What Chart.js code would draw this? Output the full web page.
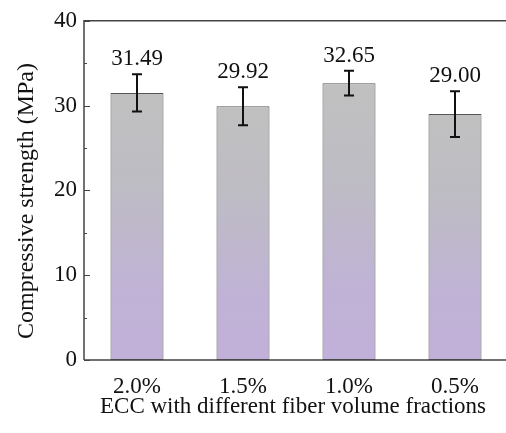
<!DOCTYPE html>
<html>
<head>
<meta charset="utf-8">
<script src="https://cdn.jsdelivr.net/npm/chart.js@4"></script>
<style>
html,body{margin:0;padding:0;background:#fff;overflow:hidden;}
#wrap{width:512px;height:433px;}
</style>
</head>
<body>
<div id="wrap"><canvas id="c" width="512" height="433"></canvas></div>
<script>
const categories = ['2.0%', '1.5%', '1.0%', '0.5%'];
const strength = [31.49, 29.92, 32.65, 29.00];
const errors = [2.2, 2.25, 1.45, 2.7];
const valueLabels = ['31.49', '29.92', '32.65', '29.00'];
const yMajorTicks = [0, 10, 20, 30, 40];
const yMinorTicks = [5, 15, 25, 35];
const xTitle = 'ECC with different fiber volume fractions';
const yTitle = 'Compressive strength (MPa)';

const FONT = "'Liberation Serif', 'Times New Roman', Tinos, Times, serif";
const AXIS = '#444444';

function barGradient(context) {
  const chart = context.chart;
  const area = chart.chartArea;
  if (!area) return '#c0c0c0';
  const ys = chart.scales.y;
  const v = context.raw;
  const top = ys.getPixelForValue(v);
  const bottom = ys.getPixelForValue(0);
  const g = chart.ctx.createLinearGradient(0, top, 0, bottom);
  g.addColorStop(0, '#c0c0c0');
  g.addColorStop(0.35, '#bebcc4');
  g.addColorStop(0.75, '#c0b2d6');
  g.addColorStop(1, '#c1b0d9');
  return g;
}

const decor = {
  id: 'decor',
  afterDatasetsDraw(chart) {
    const ctx = chart.ctx;
    const area = chart.chartArea;
    const ys = chart.scales.y;
    const meta = chart.getDatasetMeta(0);
    ctx.save();
    ctx.strokeStyle = '#111';
    ctx.lineWidth = 2;
    meta.data.forEach((bar, i) => {
      const x = bar.x;
      const yt = ys.getPixelForValue(strength[i] + errors[i]);
      const yb = ys.getPixelForValue(strength[i] - errors[i]);
      ctx.beginPath();
      ctx.moveTo(x, yt); ctx.lineTo(x, yb);
      ctx.moveTo(x - 5, yt); ctx.lineTo(x + 5, yt);
      ctx.moveTo(x - 5, yb); ctx.lineTo(x + 5, yb);
      ctx.stroke();
      ctx.fillStyle = '#111';
      ctx.font = '23px ' + FONT;
      ctx.textAlign = 'center';
      ctx.textBaseline = 'alphabetic';
      ctx.fillText(valueLabels[i], x, yt - 9);
    });
    ctx.strokeStyle = AXIS;
    ctx.lineWidth = 1.5;
    ctx.beginPath();
    ctx.moveTo(area.left, area.bottom);
    ctx.lineTo(area.left, area.top);
    ctx.lineTo(area.right, area.top);
    ctx.lineTo(area.right, area.bottom);
    ctx.lineTo(area.left, area.bottom);
    ctx.stroke();
    ctx.lineWidth = 1.2;
    ctx.beginPath();
    yMajorTicks.forEach(v => {
      const y = Math.round(ys.getPixelForValue(v)) + 0.5;
      ctx.moveTo(area.left, y); ctx.lineTo(area.left + 6, y);
    });
    yMinorTicks.forEach(v => {
      const y = Math.round(ys.getPixelForValue(v)) + 0.5;
      ctx.moveTo(area.left, y); ctx.lineTo(area.left + 3, y);
    });
    ctx.stroke();
    ctx.fillStyle = '#111';
    ctx.font = '23px ' + FONT;
    ctx.textAlign = 'center';
    ctx.textBaseline = 'alphabetic';
    ctx.fillText(xTitle, (area.left + area.right) / 2 - 3, 413);
    ctx.font = '24px ' + FONT;
    ctx.translate(33, 201);
    ctx.rotate(-Math.PI / 2);
    ctx.fillText(yTitle, 0, 0);
    ctx.restore();
  }
};

new Chart(document.getElementById('c'), {
  type: 'bar',
  data: {
    labels: categories,
    datasets: [{
      data: strength,
      backgroundColor: barGradient,
      borderColor: '#555555',
      borderWidth: 1,
      borderSkipped: false,
      categoryPercentage: 1.0,
      barPercentage: 0.5
    }]
  },
  options: {
    responsive: false,
    animation: false,
    devicePixelRatio: 1,
    layout: { padding: { top: 18, right: 4, left: 0, bottom: 0 } },
    plugins: { legend: { display: false }, tooltip: { enabled: false } },
    scales: {
      x: {
        grid: { display: false, drawTicks: false },
        border: { display: false },
        ticks: { color: '#111', font: { family: FONT, size: 23 }, padding: 13, maxRotation: 0 },
        afterFit(s) { s.height = 73; }
      },
      y: {
        min: 0, max: 40,
        grid: { display: false, drawTicks: false },
        border: { display: false },
        afterBuildTicks(s) { s.ticks = yMajorTicks.map(v => ({ value: v })); },
        ticks: { color: '#111', font: { family: FONT, size: 23 }, padding: 7 },
        afterFit(s) { s.width = 84; }
      }
    }
  },
  plugins: [decor]
});
</script>
</body>
</html>
